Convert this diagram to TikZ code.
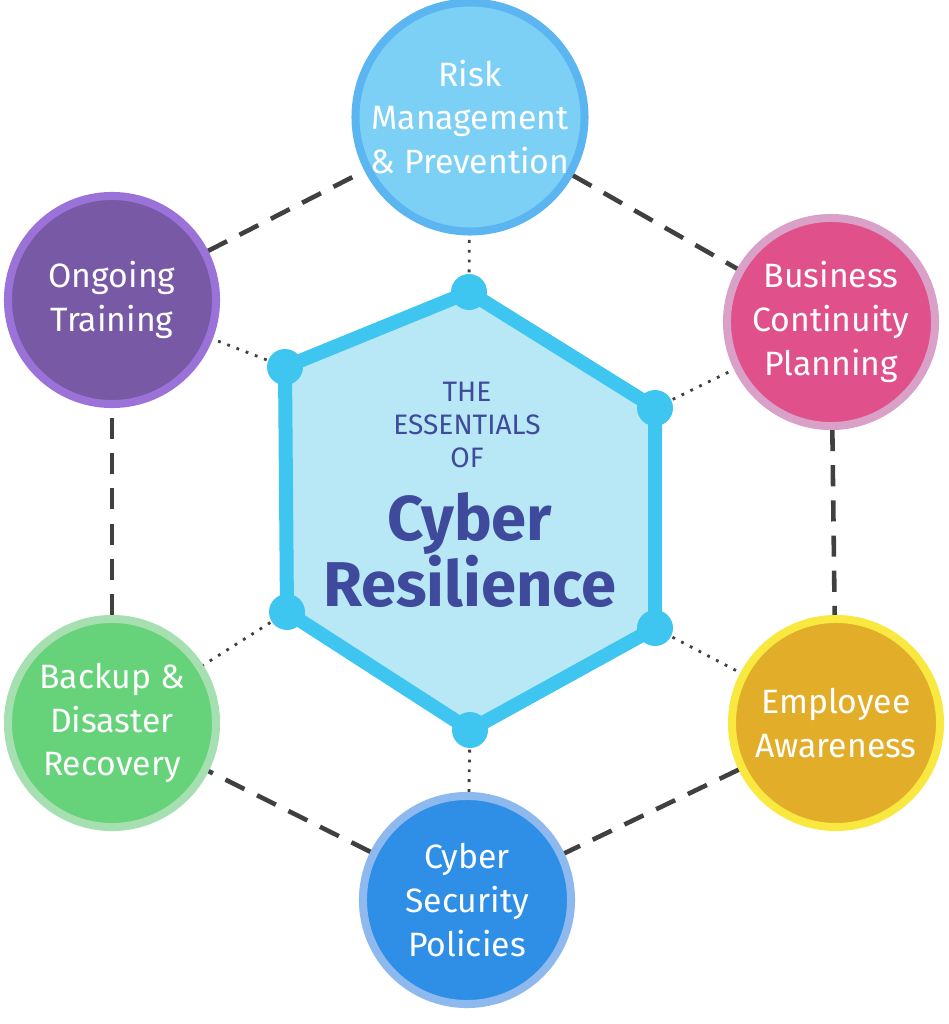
\documentclass[tikz,border=0pt]{standalone}
\usepackage{fontspec}
\setmainfont{Fira Sans}
\definecolor{hexfill}{HTML}{B8E8F5}
\definecolor{hexline}{HTML}{3EC6F0}
\definecolor{titleblue}{HTML}{3F4A9C}
\definecolor{lineGray}{HTML}{404040}
\tikzset{
  topic/.style={circle, minimum size=2.08cm, line width=0.8mm, text=white, align=center,
    font=\fontsize{9.6}{12.4}\selectfont, inner sep=0pt},
  link/.style={dashed, dash pattern=on 6pt off 4pt, line width=1.3pt, lineGray},
  spoke/.style={dotted, line width=0.8pt, lineGray}
}
\begin{document}
\begin{tikzpicture}[x=0.01cm,y=-0.01cm]
\useasboundingbox (0,0) rectangle (949,1024);
% hexagon corners
\coordinate (h1) at (469,292);
\coordinate (h2) at (655,408);
\coordinate (h3) at (655,628);
\coordinate (h4) at (470,730);
\coordinate (h5) at (287,612);
\coordinate (h6) at (285,367);
% topics
\node[topic, fill={rgb,255:red,125;green,208;blue,245}, draw={rgb,255:red,91;green,181;blue,240}] (risk) at (470,117) {Risk\\Management\\\& Prevention};
\node[topic, fill={rgb,255:red,224;green,80;blue,138}, draw={rgb,255:red,217;green,160;blue,200}] (biz) at (831,322) {Business\\Continuity\\Planning};
\node[topic, fill={rgb,255:red,226;green,174;blue,42}, draw={rgb,255:red,248;green,232;blue,64}] (emp) at (836,723) {Employee\\Awareness};
\node[topic, fill={rgb,255:red,47;green,143;blue,230}, draw={rgb,255:red,141;green,185;blue,238}] (pol) at (467,900) {Cyber\\Security\\Policies};
\node[topic, fill={rgb,255:red,102;green,211;blue,122}, draw={rgb,255:red,167;green,224;blue,176}] (back) at (112,723) {Backup \&\\Disaster\\Recovery};
\node[topic, fill={rgb,255:red,120;green,89;blue,166}, draw={rgb,255:red,154;green,114;blue,216}] (train) at (112,300) {Ongoing\\Training};
% outer ring
\draw[link] (risk) -- (biz);
\draw[link] (biz) -- (emp);
\draw[link] (emp) -- (pol);
\draw[link] (pol) -- (back);
\draw[link] (back) -- (train);
\draw[link] (train) -- (risk);
% spokes
\draw[spoke] (h1) -- (risk);
\draw[spoke] (h2) -- (biz);
\draw[spoke] (h3) -- (emp);
\draw[spoke] (h4) -- (pol);
\draw[spoke] (h5) -- (back);
\draw[spoke] (h6) -- (train);
% center
\draw[fill=hexfill, draw=hexline, line width=1.4mm, line join=round] (h1) -- (h2) -- (h3) -- (h4) -- (h5) -- (h6) -- cycle;
\foreach \c in {h1,h2,h3,h4,h5,h6}
  \fill[hexline] (\c) circle (18);
\node[text=titleblue, align=center, font=\fontsize{8}{9.5}\selectfont] (essentials) at (467,425) {THE\\ESSENTIALS\\OF};
\node[text=titleblue, align=center, font=\fontsize{18}{19}\selectfont\bfseries] (cyber) at (470,550) {Cyber\\Resilience};
\end{tikzpicture}
\end{document}
